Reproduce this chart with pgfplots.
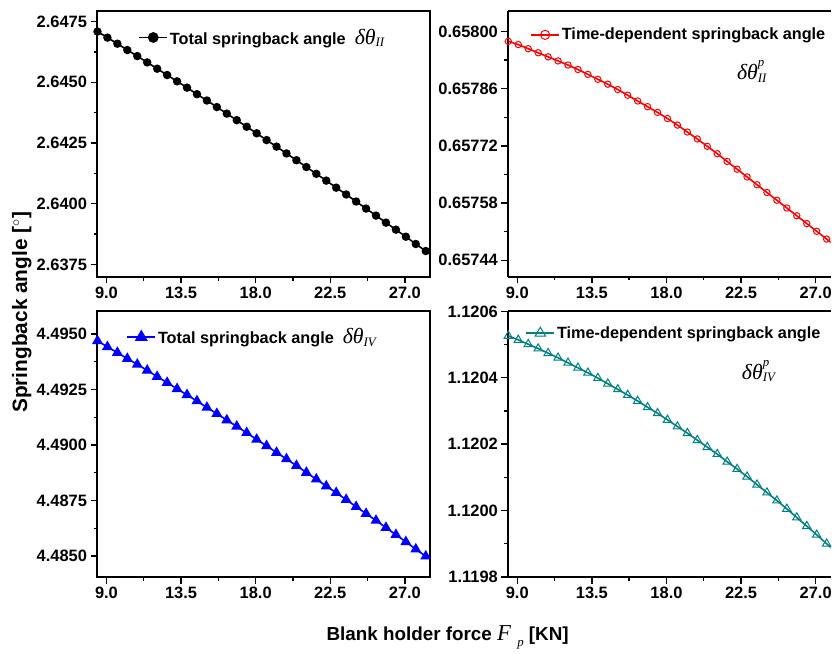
\documentclass[border=0pt]{standalone}
\usepackage{pgfplots}
\pgfplotsset{compat=1.18}
\usepackage{pgfplotstable}
\usepackage{fontspec}
\setmainfont{Liberation Sans}
\newfontfamily\tnr{Liberation Serif}
\definecolor{dcyan}{RGB}{0,128,128}

% springback angle symbols
\newcommand{\symsub}[1]{$\hbox{\fontsize{22}{22}\selectfont\tnr\mdseries\itshape δθ}_{\hbox{\fontsize{13}{13}\selectfont\tnr\mdseries\itshape #1}}$}
\newcommand{\symsupsub}[2]{$\hbox{\fontsize{22}{22}\selectfont\tnr\mdseries\itshape δθ}^{\hbox{\fontsize{13}{13}\selectfont\tnr\mdseries\itshape #1}}_{\hbox{\fontsize{13}{13}\selectfont\tnr\mdseries\itshape #2}}$}

% blank holder force [KN] vs. springback angles [deg]
\pgfplotstableread{
x     tII      pII       tIV      pIV
8.46  2.64709  0.657976  4.49469  1.120526
9.06  2.64684  0.657968  4.49442  1.120514
9.66  2.64659  0.657958  4.49416  1.120501
10.26 2.64633  0.657948  4.49389  1.120488
10.86 2.64608  0.657938  4.49363  1.120474
11.46 2.64582  0.657928  4.49336  1.120460
12.06 2.64556  0.657918  4.49308  1.120445
12.66 2.64530  0.657907  4.49281  1.120430
13.26 2.64504  0.657895  4.49253  1.120415
13.86 2.64478  0.657883  4.49226  1.120399
14.46 2.64451  0.657871  4.49198  1.120382
15.06 2.64425  0.657858  4.49169  1.120365
15.66 2.64398  0.657844  4.49141  1.120348
16.26 2.64371  0.657830  4.49112  1.120330
16.86 2.64344  0.657816  4.49084  1.120311
17.46 2.64317  0.657802  4.49055  1.120293
18.06 2.64290  0.657787  4.49025  1.120273
18.66 2.64262  0.657771  4.48996  1.120253
19.26 2.64235  0.657754  4.48966  1.120233
19.86 2.64207  0.657737  4.48937  1.120212
20.46 2.64179  0.657719  4.48907  1.120191
21.06 2.64151  0.657701  4.48876  1.120170
21.66 2.64123  0.657682  4.48846  1.120147
22.26 2.64095  0.657663  4.48815  1.120125
22.86 2.64066  0.657644  4.48785  1.120102
23.46 2.64038  0.657625  4.48754  1.120078
24.06 2.64009  0.657606  4.48722  1.120054
24.66 2.63980  0.657587  4.48691  1.120030
25.26 2.63951  0.657568  4.48660  1.120005
25.86 2.63922  0.657549  4.48628  1.119979
26.46 2.63893  0.657530  4.48596  1.119953
27.06 2.63864  0.657511  4.48564  1.119927
27.66 2.63834  0.657492  4.48531  1.119900
28.26 2.63805  0.657473  4.48499  1.119873
}\springback

\pgfplotsset{
  panel/.style={
    height=267bp, scale only axis,
    xmin=8.46,
    xtick={9,13.5,18,22.5,27},
    xticklabels={9.0,13.5,18.0,22.5,27.0},
    minor x tick num=1, minor y tick num=1,
    tick align=outside, xtick pos=bottom, ytick pos=left,
    major tick length=7bp, minor tick length=4bp,
    axis line style={line width=2bp},
    major tick style={line width=1.4bp, black},
    minor tick style={line width=1.4bp, black},
    ticklabel style={font=\bfseries\fontsize{16.6}{16.6}\selectfont},
    legend style={draw=none, fill=none, inner sep=0pt, anchor=west,
      font=\bfseries\fontsize{16.4}{16.4}\selectfont},
    legend cell align=left,
    legend image code/.code={\draw[mark repeat=2,mark phase=2,##1]
      plot coordinates {(0bp,0bp) (14bp,0bp) (28bp,0bp)};},
  },
  leftpanel/.style={panel, width=334bp, xmax=28.5},
  % right-hand panels run on past the edge of the figure
  rightpanel/.style={panel, width=324bp, xmax=27.90,
    axis x line*=box, axis y line*=left},
}

\begin{document}
\begin{tikzpicture}[x=1bp,y=1bp]
\path (0,0) rectangle (835,657);

% total springback angle, II
\begin{axis}[leftpanel, at={(98bp,646bp)}, anchor=north west,
  ymin=2.63700, ymax=2.64794,
  ytick={2.6375,2.64,2.6425,2.645,2.6475},
  yticklabels={2.6375,2.6400,2.6425,2.6450,2.6475},
  legend style={at={(0.123,0.90)}},
  legend image post style={mark size=4.6bp}]
\addplot[black, line width=1.6bp, mark=*, mark size=3.4bp]
  table[x=x, y=tII]{\springback};
\addlegendentry{Total springback angle\ \ \symsub{II}}
\end{axis}

% time-dependent springback angle, II
\begin{axis}[rightpanel, at={(511bp,646bp)}, anchor=north west,
  ymin=0.6574003, ymax=0.6580504,
  ytick={0.65744,0.65758,0.65772,0.65786,0.658},
  yticklabels={0.65744,0.65758,0.65772,0.65786,0.65800},
  legend style={at={(0.068,0.91)}},
  legend image post style={mark size=4.6bp}]
\addplot[red, line width=1.6bp, mark=o, mark size=3.2bp,
  mark options={fill=white, line width=1bp}]
  table[x=x, y=pII]{\springback};
\addlegendentry{Time-dependent springback angle}
\node at (rel axis cs:0.756,0.772) {\symsupsub{p}{II}};
\end{axis}

% total springback angle, IV
\begin{axis}[leftpanel, at={(98bp,344bp)}, anchor=north west,
  ymin=4.48406, ymax=4.49602,
  ytick={4.485,4.4875,4.49,4.4925,4.495},
  yticklabels={4.4850,4.4875,4.4900,4.4925,4.4950},
  legend style={at={(0.087,0.903)}},
  legend image post style={mark size=6bp}]
\addplot[blue, line width=1.6bp, mark=triangle*, mark size=4.8bp]
  table[x=x, y=tIV]{\springback};
\addlegendentry{Total springback angle\ \ \symsub{IV}}
\end{axis}

% time-dependent springback angle, IV
\begin{axis}[rightpanel, at={(511bp,344bp)}, anchor=north west,
  ymin=1.1198, ymax=1.1206,
  ytick={1.1198,1.12,1.1202,1.1204,1.1206},
  yticklabels={1.1198,1.1200,1.1202,1.1204,1.1206},
  legend style={at={(0.053,0.918)}},
  legend image post style={mark size=6bp}]
\addplot[dcyan, line width=1.6bp, mark=triangle, mark size=4.8bp,
  mark options={fill=white, line width=1bp}]
  table[x=x, y=pIV]{\springback};
\addlegendentry{Time-dependent springback angle}
\node at (rel axis cs:0.777,0.775) {\symsupsub{p}{IV}};
\end{axis}

% shared axis titles
\node[rotate=90, font=\bfseries\fontsize{21}{21}\selectfont]
  at (22,343) {Springback angle [$^{\circ}$]};
\node[font=\bfseries\fontsize{19}{19}\selectfont] at (450,16)
  {Blank holder force {\mdseries\tnr\itshape\fontsize{23}{23}\selectfont F}\,\,\raisebox{-6bp}{\fontsize{13}{13}\selectfont\mdseries\tnr\itshape p} [KN]};
\end{tikzpicture}
\end{document}
